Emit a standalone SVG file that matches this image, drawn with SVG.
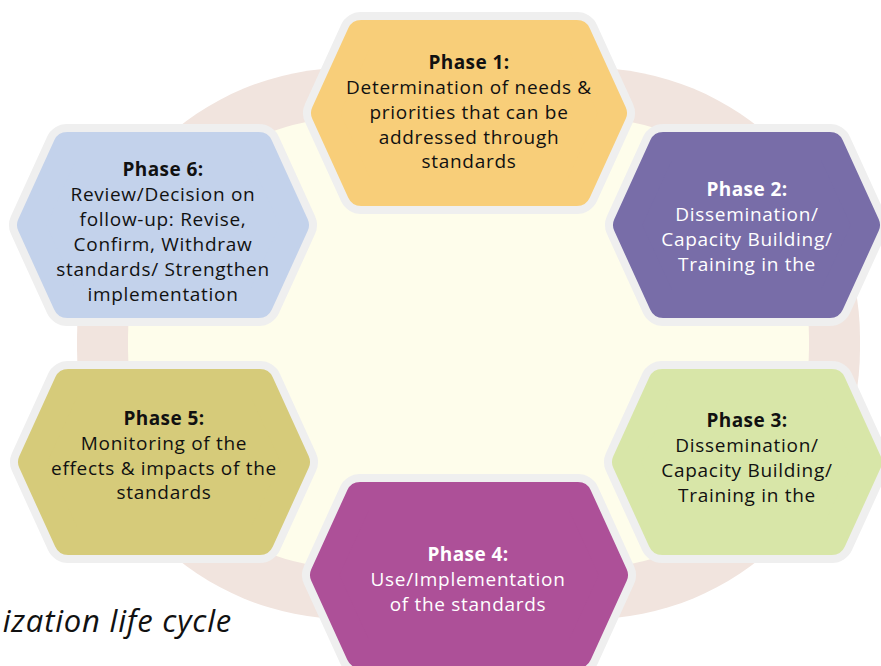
<svg xmlns="http://www.w3.org/2000/svg" width="881" height="666" viewBox="0 0 881 666">
<style>
.bd{fill:#EFEFEF;stroke:#EFEFEF;stroke-width:44;stroke-linejoin:round}
.hx{stroke-width:28;stroke-linejoin:round}
.t{font-family:"Open Sans","Liberation Sans",sans-serif;font-size:19px;font-weight:500;letter-spacing:0.7px;text-anchor:middle;fill:#111}
.t .h{font-weight:700;letter-spacing:0.4px}
.w{fill:#fff}
.cap{font-family:"Open Sans","Liberation Sans",sans-serif;font-style:italic;font-weight:500;font-size:31px;letter-spacing:0.8px;fill:#111;text-anchor:end}
</style>
<rect width="881" height="666" fill="#fff"/>
<g id="background">
<rect x="77" y="68" width="783" height="551" rx="270" ry="270" fill="#F1E4DE"/>
<rect x="128" y="118" width="681" height="450" rx="220" ry="220" fill="#FEFDEB"/>
</g>
<g id="phase1">
<polygon class="bd" points="325,113 361,34 577,34 613,113 577,192 361,192"/>
<polygon class="hx" fill="#F8CE79" stroke="#F8CE79" points="325,113 361,34 577,34 613,113 577,192 361,192"/>
<text class="t"><tspan class="h" x="469" y="69">Phase 1:</tspan><tspan x="469" y="94">Determination of needs &amp;</tspan><tspan x="469" y="119">priorities that can be</tspan><tspan x="469" y="144">addressed through</tspan><tspan x="469" y="168">standards</tspan></text>
</g>
<g id="phase2">
<polygon class="bd" points="627,225 663,146 830,146 866,225 830,304 663,304"/>
<polygon class="hx" fill="#786DA8" stroke="#786DA8" points="627,225 663,146 830,146 866,225 830,304 663,304"/>
<text class="t w"><tspan class="h" x="747" y="196">Phase 2:</tspan><tspan x="747" y="221">Dissemination/</tspan><tspan x="747" y="246">Capacity Building/</tspan><tspan x="747" y="271">Training in the</tspan></text>
</g>
<g id="phase3">
<polygon class="bd" points="626,462 662,383 832,383 868,462 832,541 662,541"/>
<polygon class="hx" fill="#D8E6A8" stroke="#D8E6A8" points="626,462 662,383 832,383 868,462 832,541 662,541"/>
<text class="t"><tspan class="h" x="747" y="427">Phase 3:</tspan><tspan x="747" y="452">Dissemination/</tspan><tspan x="747" y="477">Capacity Building/</tspan><tspan x="747" y="502">Training in the</tspan></text>
</g>
<g id="phase4">
<polygon class="bd" points="324,575 360,496 578,496 614,575 578,654 360,654"/>
<polygon class="hx" fill="#AD5098" stroke="#AD5098" points="324,575 360,496 578,496 614,575 578,654 360,654"/>
<text class="t w"><tspan class="h" x="468" y="561">Phase 4:</tspan><tspan x="468" y="586">Use/Implementation</tspan><tspan x="468" y="611">of the standards</tspan></text>
</g>
<g id="phase5">
<polygon class="bd" points="32,462 68,383 260,383 296,462 260,541 68,541"/>
<polygon class="hx" fill="#D6CB7A" stroke="#D6CB7A" points="32,462 68,383 260,383 296,462 260,541 68,541"/>
<text class="t"><tspan class="h" x="164" y="425">Phase 5:</tspan><tspan x="164" y="450">Monitoring of the</tspan><tspan x="164" y="475">effects &amp; impacts of the</tspan><tspan x="164" y="499">standards</tspan></text>
</g>
<g id="phase6">
<polygon class="bd" points="31,225 67,146 259,146 295,225 259,304 67,304"/>
<polygon class="hx" fill="#C3D2EB" stroke="#C3D2EB" points="31,225 67,146 259,146 295,225 259,304 67,304"/>
<text class="t"><tspan class="h" x="163" y="176">Phase 6:</tspan><tspan x="163" y="201">Review/Decision on</tspan><tspan x="163" y="226">follow-up: Revise,</tspan><tspan x="163" y="251">Confirm, Withdraw</tspan><tspan x="163" y="276">standards/ Strengthen</tspan><tspan x="163" y="301">implementation</tspan></text>
</g>
<text class="cap" x="232" y="632">ization life cycle</text>
</svg>
